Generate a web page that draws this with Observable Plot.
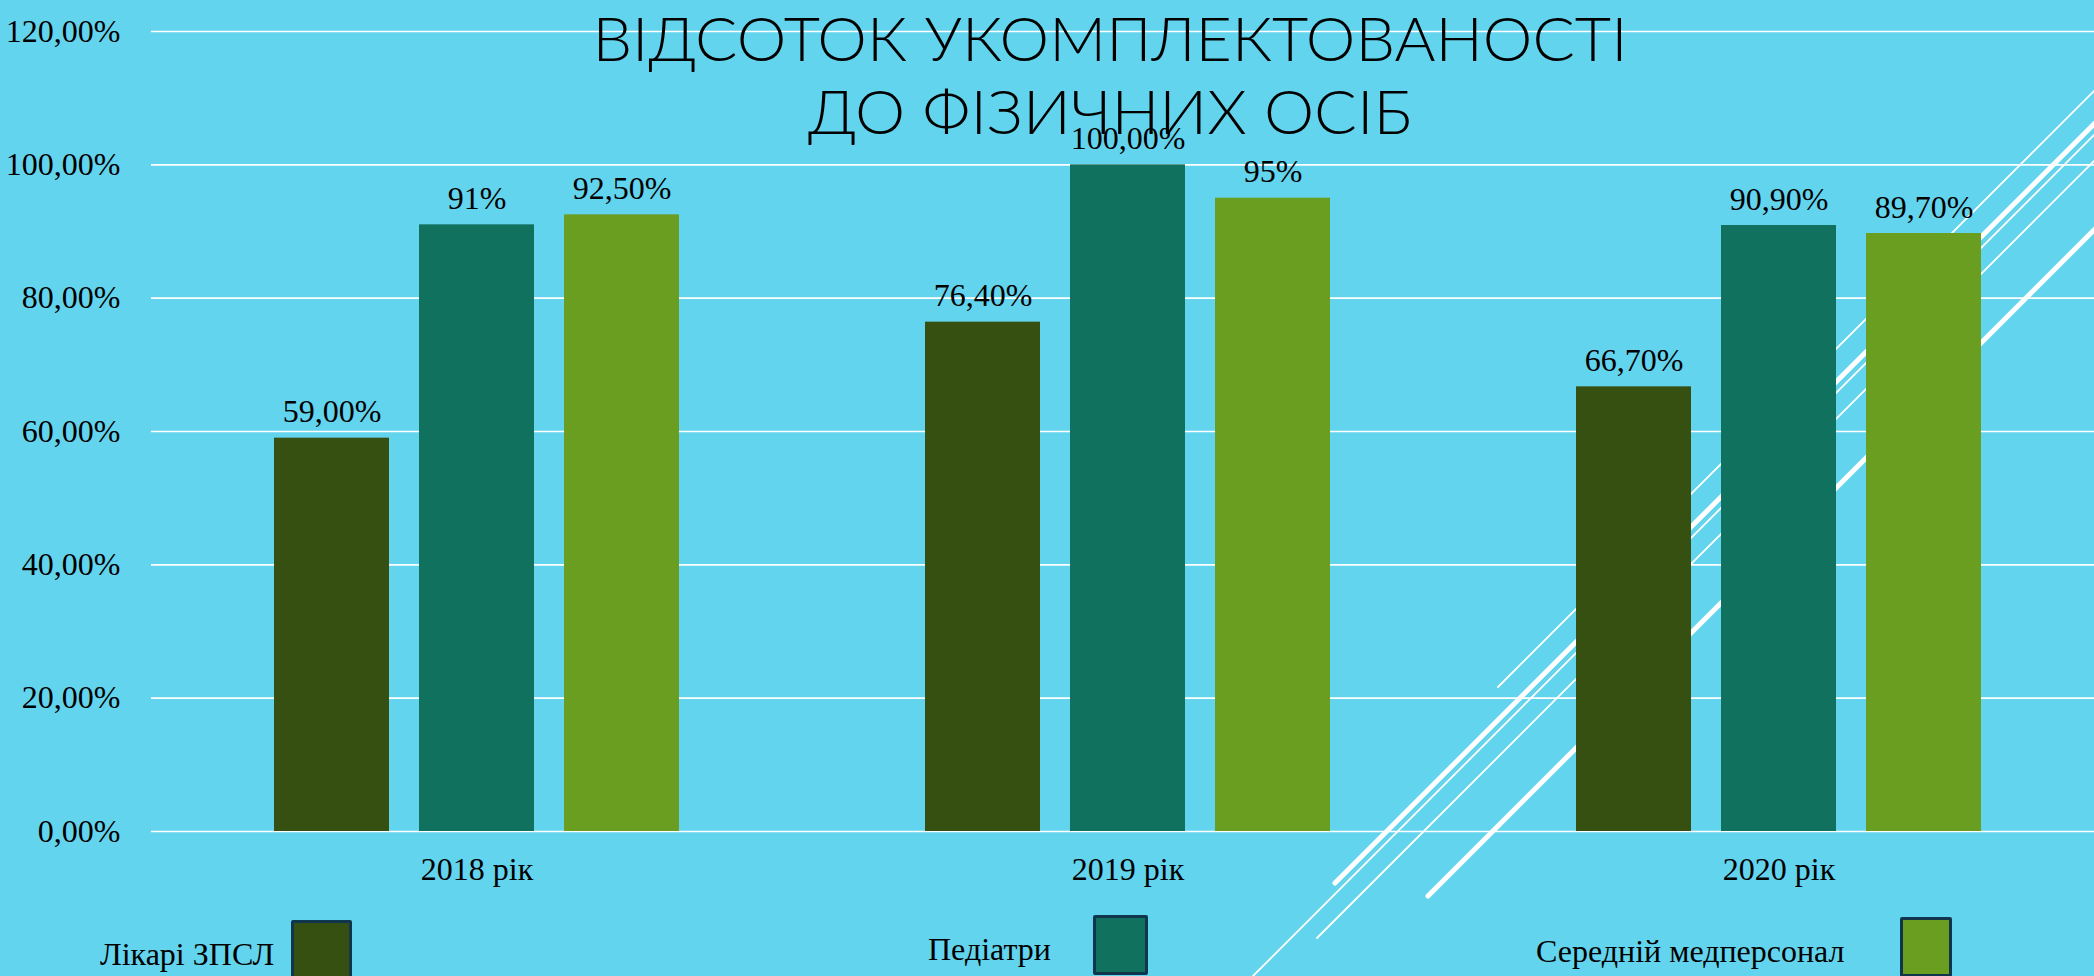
<!DOCTYPE html>
<html>
<head>
<meta charset="utf-8">
<script src="https://cdn.jsdelivr.net/npm/d3@7"></script>
<script src="https://cdn.jsdelivr.net/npm/@observablehq/plot@0.6"></script>
<style>
  html, body { margin: 0; padding: 0; overflow: hidden; }
  body { background: #63d4ee; width: 2094px; height: 976px; }
  #wrap { position: relative; width: 2094px; height: 976px; overflow: hidden; background: #63d4ee; }
  #deco, #chart, #title { position: absolute; left: 0; top: 0; }
  #chart { width: 2104px; }
  #chart svg { max-width: none !important; }
  #legend { position: absolute; left: 0; top: 0; width: 2094px; height: 976px; pointer-events: none;
            font-family: 'Liberation Serif', 'Times New Roman', serif; font-size: 32px; color: #000; }
  .item { position: absolute; display: flex; align-items: flex-start; }
  .item span { display: block; margin-top: 14px; line-height: 40px; }
  .sw { height: 60px; box-sizing: border-box; border: 3px solid #10364d; border-radius: 2px; }
</style>
</head>
<body>
<div id="wrap">
  <svg id="deco" width="2094" height="976"></svg>
  <div id="chart"></div>
  <svg id="title" width="2094" height="200" style="overflow: visible"></svg>
  <div id="legend"></div>
</div>
<script>
// ---- data ----
const categories = ["2018 рік", "2019 рік", "2020 рік"];
const seriesNames = ["Лікарі ЗПСЛ", "Педіатри", "Середній медперсонал"];
const doctorsValues = [59.0, 76.4, 66.7];
const pediatriciansValues = [91.0, 100.0, 90.9];
const nursesValues = [92.5, 95.0, 89.7];
const doctorsLabels = ["59,00%", "76,40%", "66,70%"];
const pediatriciansLabels = ["91%", "100,00%", "90,90%"];
const nursesLabels = ["92,50%", "95%", "89,70%"];
const yTicks = [0, 20, 40, 60, 80, 100, 120];
const yTickLabels = ["0,00%", "20,00%", "40,00%", "60,00%", "80,00%", "100,00%", "120,00%"];
const seriesColors = ["#365011", "#10715e", "#6a9e20"];
const titleLines = ["ВІДСОТОК УКОМПЛЕКТОВАНОСТІ", "ДО ФІЗИЧНИХ ОСІБ"];

const seriesValues = [doctorsValues, pediatriciansValues, nursesValues];
const seriesLabels = [doctorsLabels, pediatriciansLabels, nursesLabels];
const rows = [];
categories.forEach((c, i) => {
  seriesNames.forEach((s, j) => {
    rows.push({year: c, series: s, value: seriesValues[j][i], label: seriesLabels[j][i]});
  });
});

// ---- decorative background lines (slide ornament) ----
const deco = d3.select("#deco");
const decoLines = [
  {p: [1335, 883, 2200, 18], w: 5},
  {p: [1428, 896, 2200, 124], w: 5},
  {p: [1253, 976, 2200, 29], w: 1.8},
  {p: [1317, 938, 2200, 55], w: 1.8},
  {p: [1498, 687, 2200, -15], w: 1.8}
];
decoLines.forEach(l => {
  deco.append("line").attr("x1", l.p[0]).attr("y1", l.p[1]).attr("x2", l.p[2]).attr("y2", l.p[3])
    .attr("stroke", "white").attr("stroke-width", l.w).attr("stroke-linecap", "round");
});

// ---- chart ----
const chart = Plot.plot({
  width: 2104,
  height: 900,
  marginLeft: 151,
  marginRight: 0,
  marginTop: 31,
  marginBottom: 69,
  style: {background: "transparent", fontFamily: "'Liberation Serif', 'Times New Roman', serif", fontSize: "32px", color: "black", overflow: "visible", maxWidth: "none"},
  fx: {domain: categories, padding: 0, axis: "bottom", tickSize: 0, tickPadding: 26, label: null},
  x: {domain: seriesNames, paddingInner: 0.21, paddingOuter: 0.848, axis: null},
  y: {domain: [0, 120], ticks: yTicks, tickFormat: d => yTickLabels[yTicks.indexOf(d)], tickSize: 0, tickPadding: 31, label: null},
  color: {domain: seriesNames, range: seriesColors},
  marks: [
    Plot.ruleY(yTicks, {stroke: "white", strokeWidth: 1.6}),
    Plot.barY(rows, {fx: "year", x: "series", y: "value", fill: "series"}),
    Plot.text(rows, {fx: "year", x: "series", y: "value", text: "label", dy: -16, lineAnchor: "bottom", fill: "black"})
  ]
});
document.getElementById("chart").appendChild(chart);

// ---- title ----
const title = d3.select("#title");
const titleSpecs = [{y: 61, len: 1035}, {y: 134, len: 604}];
titleLines.forEach((t, i) => {
  title.append("text").attr("x", 1110).attr("y", titleSpecs[i].y)
    .attr("text-anchor", "middle")
    .attr("font-family", "Lato, 'Open Sans', sans-serif").attr("font-weight", 300).attr("font-size", 62)
    .attr("textLength", titleSpecs[i].len).attr("lengthAdjust", "spacingAndGlyphs")
    .attr("fill", "#000").text(t);
});

// ---- legend ----
const legend = d3.select("#legend");
const legendPos = [
  {left: 100, top: 920, gap: 17, w: 61},
  {left: 928, top: 915, gap: 42, w: 55},
  {left: 1536, top: 917, gap: 55, w: 52}
];
seriesNames.forEach((s, i) => {
  const it = legend.append("div").attr("class", "item")
    .style("left", legendPos[i].left + "px").style("top", legendPos[i].top + "px");
  it.append("span").text(s).style("margin-right", legendPos[i].gap + "px");
  it.append("div").attr("class", "sw").style("width", legendPos[i].w + "px").style("background", seriesColors[i]);
});
</script>
</body>
</html>
